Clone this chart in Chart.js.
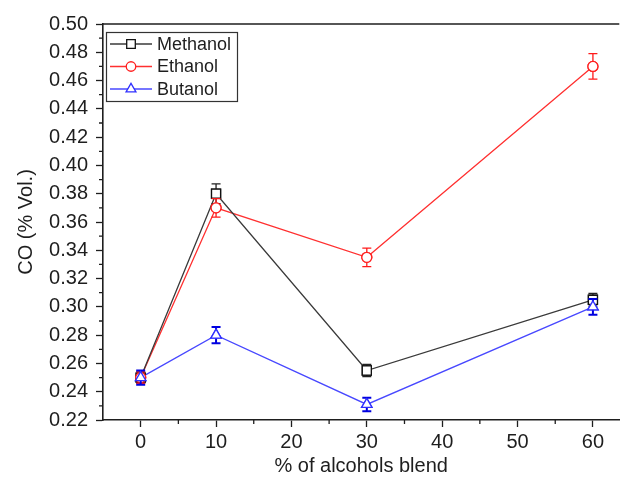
<!DOCTYPE html>
<html>
<head>
<meta charset="utf-8">
<script src="https://cdn.jsdelivr.net/npm/chart.js@4/dist/chart.umd.min.js"></script>
<style>
  html, body { margin: 0; padding: 0; background: #fff; overflow: hidden; }
  canvas { display: block; }
</style>
</head>
<body>
<canvas id="cochart" width="627" height="478"></canvas>
<script>
const blends = [0, 10, 30, 60];
const methanol = [0.250, 0.380, 0.255, 0.305];
const methanolErr = [0.004, 0.007, 0.0043, 0.0045];
const ethanol = [0.250, 0.370, 0.335, 0.470];
const ethanolErr = [0.004, 0.0065, 0.0065, 0.009];
const butanol = [0.250, 0.280, 0.231, 0.300];
const butanolErr = [0.005, 0.0058, 0.0048, 0.0055];

const xTicks = [0, 10, 20, 30, 40, 50, 60];
const xMinor = [5, 15, 25, 35, 45, 55];
const yTicks = [0.22, 0.24, 0.26, 0.28, 0.30, 0.32, 0.34, 0.36, 0.38, 0.40, 0.42, 0.44, 0.46, 0.48, 0.50];
const yMinor = [0.23, 0.25, 0.27, 0.29, 0.31, 0.33, 0.35, 0.37, 0.39, 0.41, 0.43, 0.45, 0.47, 0.49];

const FONT = "'Liberation Sans', Arial, sans-serif";
const INK = '#1e1e1e';

function pts(vals) {
  return blends.map((b, i) => ({ x: b, y: vals[i] }));
}

const series = [
  { label: 'Methanol', vals: methanol, err: methanolErr, color: '#3a3a3a', mark: '#111', barColor: '#222', barW: 1.3, style: 'rect', r: 6.4 },
  { label: 'Ethanol', vals: ethanol, err: ethanolErr, color: '#ff3030', mark: '#ff2020', barColor: '#ff1a1a', barW: 1.3, style: 'circle', r: 5 },
  { label: 'Butanol', vals: butanol, err: butanolErr, color: '#4848ff', mark: '#3030ff', barColor: '#0000e0', barW: 2, style: 'triangle', r: 6 },
];

// error bars, then the open markers again on top of them
const errorBars = {
  id: 'errorBars',
  afterDatasetsDraw(chart) {
    const ctx = chart.ctx;
    const ys = chart.scales.y;
    ctx.save();
    series.forEach((s, i) => {
      const meta = chart.getDatasetMeta(i);
      ctx.strokeStyle = s.barColor;
      ctx.lineWidth = s.barW;
      meta.data.forEach((p, j) => {
        const top = ys.getPixelForValue(s.vals[j] + s.err[j]);
        const bot = ys.getPixelForValue(s.vals[j] - s.err[j]);
        ctx.beginPath();
        ctx.moveTo(p.x, top); ctx.lineTo(p.x, bot);
        ctx.moveTo(p.x - 4.5, top); ctx.lineTo(p.x + 4.5, top);
        ctx.moveTo(p.x - 4.5, bot); ctx.lineTo(p.x + 4.5, bot);
        ctx.stroke();
      });
      ctx.fillStyle = '#fff';
      ctx.strokeStyle = s.mark;
      ctx.lineWidth = 1.3;
      meta.data.forEach(p => {
        Chart.helpers.drawPoint(ctx, {
          pointStyle: s.style, radius: s.r, borderWidth: 1.3, rotation: 0
        }, p.x, p.y);
      });
    });
    ctx.restore();
  }
};

// minor ticks, top frame line and the boxed legend
const frame = {
  id: 'frame',
  afterDraw(chart) {
    const ctx = chart.ctx;
    const a = chart.chartArea;
    const xs = chart.scales.x, ys = chart.scales.y;
    ctx.save();
    ctx.strokeStyle = INK;
    ctx.lineWidth = 1.3;
    ctx.beginPath();
    xMinor.forEach(v => {
      const px = xs.getPixelForValue(v);
      ctx.moveTo(px, a.bottom); ctx.lineTo(px, a.bottom + 4);
    });
    yMinor.forEach(v => {
      const py = ys.getPixelForValue(v);
      ctx.moveTo(a.left, py); ctx.lineTo(a.left - 4, py);
    });
    ctx.stroke();

    ctx.lineWidth = 1.6;
    ctx.beginPath();
    ctx.moveTo(a.left, a.top); ctx.lineTo(a.right, a.top);
    ctx.stroke();

    // legend
    const lx = a.left + 3, ly = a.top + 8;
    ctx.lineWidth = 1.2;
    ctx.strokeStyle = '#333';
    ctx.strokeRect(lx + 0.5, ly + 0.5, 131, 69);
    ctx.font = '18px ' + FONT;
    ctx.textBaseline = 'middle';
    ctx.textAlign = 'left';
    series.forEach((s, i) => {
      const cy = ly + 12 + i * 22.5;
      ctx.strokeStyle = s.color;
      ctx.lineWidth = 1.3;
      ctx.beginPath();
      ctx.moveTo(lx + 4, cy); ctx.lineTo(lx + 46, cy);
      ctx.stroke();
      ctx.fillStyle = '#fff';
      ctx.strokeStyle = s.mark;
      Chart.helpers.drawPoint(ctx, { pointStyle: s.style, radius: s.r * 0.95, borderWidth: 1.3, rotation: 0 }, lx + 25, cy);
      ctx.fillStyle = INK;
      ctx.fillText(s.label, lx + 51, cy + 1);
    });
    ctx.restore();
  }
};

new Chart(document.getElementById('cochart'), {
  type: 'line',
  data: {
    datasets: series.map(s => ({
      label: s.label,
      data: pts(s.vals),
      borderColor: s.color,
      borderWidth: 1.3,
      pointStyle: s.style,
      pointRadius: s.r,
      pointBorderWidth: 1.3,
      pointBorderColor: s.mark,
      pointBackgroundColor: '#fff',
      tension: 0,
    })),
  },
  options: {
    responsive: false,
    animation: false,
    layout: { padding: { top: 24, right: 0, left: 0, bottom: 0 } },
    plugins: {
      legend: { display: false },
      tooltip: { enabled: false },
    },
    scales: {
      x: {
        type: 'linear',
        min: -5,
        max: 63.5,
        afterBuildTicks: (scale) => { scale.ticks = xTicks.map(v => ({ value: v })); },
        afterFit: (scale) => { scale.height = 58; scale.paddingRight = 0; scale.paddingLeft = 0; },
        ticks: { color: INK, font: { family: FONT, size: 20 }, padding: 3 },
        grid: { drawOnChartArea: false, tickLength: 7, tickColor: INK, tickWidth: 1.3 },
        border: { color: INK, width: 1.6 },
        title: { display: true, text: '% of alcohols blend', color: INK, font: { family: FONT, size: 20 }, padding: { top: 0, bottom: 0 } },
      },
      y: {
        min: 0.22,
        max: 0.50,
        afterBuildTicks: (scale) => { scale.ticks = yTicks.map(v => ({ value: v })); },
        afterFit: (scale) => { scale.width = 103; },
        ticks: { color: INK, font: { family: FONT, size: 20 }, padding: 8, callback: (v) => v.toFixed(2) },
        grid: { drawOnChartArea: false, tickLength: 7, tickColor: INK, tickWidth: 1.3 },
        border: { color: INK, width: 1.6 },
        title: { display: true, text: 'CO (% Vol.)', color: INK, font: { family: FONT, size: 20 }, padding: { top: 14, bottom: 0 } },
      },
    },
  },
  plugins: [errorBars, frame],
});
</script>
</body>
</html>
